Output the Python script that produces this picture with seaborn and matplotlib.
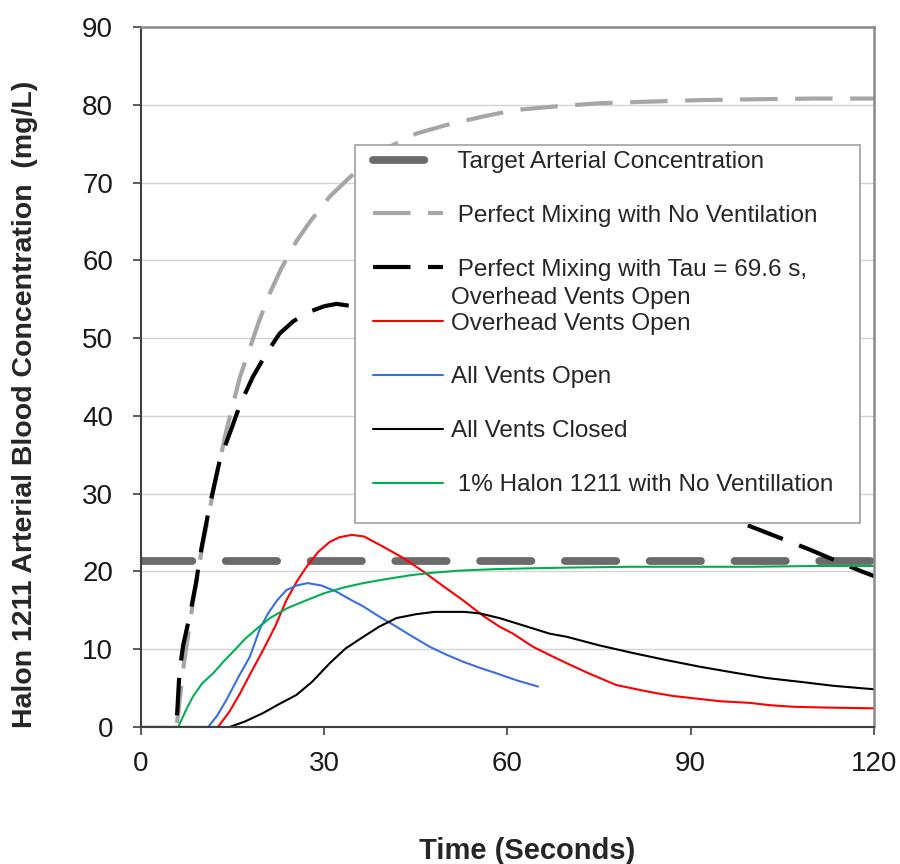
import numpy as np
import pandas as pd
import matplotlib
matplotlib.use("Agg")
import matplotlib.pyplot as plt
import seaborn as sns
from matplotlib.patches import Rectangle

# ---------------- data ----------------
target_t = [0, 120]
target_c = [21.4, 21.4]

nomix_t = [5.9, 7, 8.5, 10, 12, 14, 16.2, 19.2, 21.1, 23, 25.4, 27.6, 30.9, 34.2, 37.5,
           40.7, 45.1, 50, 55.5, 60.9, 68, 75, 83, 91.5, 100, 110, 120]
nomix_c = [0.5, 8, 16, 23, 31, 38.2, 45.0, 51.9, 55.8, 59.0, 62.4, 64.9, 68.2, 70.7, 72.8,
           74.6, 76.3, 77.4, 78.4, 79.3, 79.8, 80.2, 80.4, 80.6, 80.7, 80.8, 80.8]

tau_t = [5.9, 6.3, 6.9, 8.0, 9.0, 9.9, 11.2, 12.9, 14.5, 16.3, 18.3, 20.5, 22.7, 25, 27.6,
         30, 32, 34.7, 40, 50, 60, 70, 80, 90, 99.1, 104, 109.5, 114, 118, 120]
tau_c = [1.5, 7.1, 10.5, 14.4, 18.5, 23.0, 28.3, 34.3, 37.7, 41.6, 45.0, 48.0, 50.6, 52.2, 53.4,
         54.1, 54.4, 54.1, 53.0, 48.5, 43.5, 38.5, 33.5, 29.5, 26.0, 24.5, 22.8, 21.3, 20.0, 19.4]

overhead_t = [0, 12.6, 14.5, 16.2, 18, 20, 22, 23.8, 25.5, 27.1, 29, 30.9, 32.5, 34.5, 36.5,
              39.6, 43, 46.2, 49.5, 52.7, 56, 58.7, 60.9, 64.2, 66.9, 69.7, 73, 77.8, 83.3,
              87, 91.5, 95, 99.7, 103, 106.8, 112, 120]
overhead_c = [0, 0, 2.0, 4.3, 7.0, 9.9, 13.0, 16.3, 18.7, 20.6, 22.5, 23.8, 24.4, 24.7, 24.5,
              23.2, 21.7, 20.0, 18.1, 16.3, 14.3, 12.9, 12.0, 10.3, 9.25, 8.2, 7.0, 5.4, 4.5,
              4.0, 3.6, 3.3, 3.1, 2.8, 2.6, 2.5, 2.4]

allopen_t = [0, 11, 12.5, 14, 16, 17.8, 19.5, 20.8, 22.3, 23.8, 25.5, 27.3, 29.5, 32, 34,
             36.4, 39, 41.8, 44.5, 47.3, 50, 52.7, 55.5, 58.2, 61.5, 65]
allopen_c = [0, 0, 1.5, 3.5, 6.5, 9.0, 12.7, 14.6, 16.3, 17.6, 18.2, 18.5, 18.2, 17.4, 16.5,
             15.5, 14.2, 12.9, 11.6, 10.3, 9.3, 8.4, 7.6, 6.9, 6.0, 5.2]

closed_t = [0, 14.5, 17, 20, 22.5, 25.4, 28, 30.9, 33.5, 36.4, 39, 41.8, 45, 48, 50.5, 53,
            55.5, 58.7, 62, 66.9, 69.7, 75, 80.6, 86, 91.5, 97, 102.4, 108, 113.3, 120]
closed_c = [0, 0, 0.7, 1.8, 2.9, 4.1, 5.8, 8.2, 10.1, 11.6, 12.9, 14.0, 14.5, 14.8, 14.8, 14.8,
            14.6, 14.0, 13.2, 12.0, 11.6, 10.5, 9.5, 8.6, 7.75, 7.0, 6.3, 5.8, 5.3, 4.85]

halon1_t = [0, 6.1, 7.5, 8.5, 10, 11.8, 13.5, 15.1, 17, 19.2, 21.1, 24, 27.1, 30, 33, 36.4,
            40, 44, 47.3, 52, 58, 63.6, 70, 80, 90, 100, 110, 120]
halon1_c = [0, 0, 2.4, 3.9, 5.6, 6.9, 8.4, 9.7, 11.3, 12.8, 14.0, 15.3, 16.3, 17.2, 17.9, 18.5,
            19.0, 19.5, 19.8, 20.1, 20.3, 20.4, 20.5, 20.6, 20.6, 20.6, 20.7, 20.7]

labels = [" Target Arterial Concentration",
          " Perfect Mixing with No Ventilation",
          " Perfect Mixing with Tau = 69.6 s,",
          "Overhead Vents Open",
          "All Vents Open",
          "All Vents Closed",
          " 1% Halon 1211 with No Ventillation"]
tau_second_line = "Overhead Vents Open"

x_ticks = [0, 30, 60, 90, 120]
y_ticks = [0, 10, 20, 30, 40, 50, 60, 70, 80, 90]

# ---------------- style ----------------
sns.set_style("white")
plt.rcParams['font.family'] = ['Liberation Sans', 'DejaVu Sans']

fig = plt.figure(figsize=(9, 8.64), dpi=100)
ax = fig.add_axes([141 / 900, 1 - 727 / 864, 733 / 900, 700 / 864])

series = [
    (target_t, target_c, dict(color="#6b6b6b", lw=5.6, linestyle=(0, (6.6, 4.3)),
                              dash_capstyle="round")),
    (nomix_t, nomix_c, dict(color="#a6a6a6", lw=3.0, linestyle=(0, (9, 4.2)))),
    (tau_t, tau_c, dict(color="black", lw=3.0, linestyle=(0, (9, 4.2)))),
    (overhead_t, overhead_c, dict(color="#ff0000", lw=1.5)),
    (allopen_t, allopen_c, dict(color="#3a6fe0", lw=1.5)),
    (closed_t, closed_c, dict(color="black", lw=1.5)),
    (halon1_t, halon1_c, dict(color="#00b050", lw=1.5)),
]
for (t, c, kw), lab in zip(series, labels):
    df = pd.DataFrame({"t": t, "c": c})
    sns.lineplot(data=df, x="t", y="c", ax=ax, label=lab, sort=False,
                 estimator=None, zorder=2, **kw)

ax.set_xlim(0, 120)
ax.set_ylim(0, 90)
ax.set_xticks(x_ticks)
ax.set_yticks(y_ticks)
ax.yaxis.grid(True, color="#d4d4d4", lw=1.0)
ax.xaxis.grid(False)
ax.set_axisbelow(True)

for s in ["left", "bottom"]:
    ax.spines[s].set_color("#404040")
    ax.spines[s].set_linewidth(1.5)
for s in ["top", "right"]:
    ax.spines[s].set_color("#8a8a8a")
    ax.spines[s].set_linewidth(1.8)

ax.tick_params(axis="both", direction="out", length=6, width=1.2, color="#404040",
               labelsize=20, labelcolor="#1a1a1a")
ax.tick_params(axis="y", pad=14, left=True)
ax.tick_params(axis="x", pad=11, bottom=True)

ax.set_xlabel("Time (Seconds)", fontsize=21, fontweight="bold")
ax.set_ylabel("Halon 1211 Arterial Blood Concentration  (mg/L)", fontsize=20.5,
              fontweight="bold")
ax.xaxis.set_label_coords(0.527, -0.157)
ax.yaxis.set_label_coords(-0.140, 0.461)

# legend box
ax.add_patch(Rectangle(((355 - 141) / 733, (727 - 523) / 700), (860 - 355) / 733,
                       (523 - 145) / 700, transform=ax.transAxes, facecolor="white",
                       edgecolor="#a0a0a0", lw=1.2, zorder=4))
handles, labs = ax.get_legend_handles_labels()
leg = ax.legend(handles, labs, loc="upper left",
                bbox_to_anchor=((373 - 141) / 733, (727 - 151) / 700),
                frameon=False, fontsize=17.5, borderpad=0, borderaxespad=0,
                handlelength=2.88, handletextpad=0.33, labelspacing=1.31)
leg.set_zorder(5)
ax.annotate(tau_second_line, xy=(0, 0.5), xycoords=leg.get_texts()[2],
            xytext=(0, -28), textcoords="offset pixels", ha="left", va="center",
            fontsize=17.5, zorder=6, annotation_clip=False)

fig.savefig("out.png", dpi=100)
